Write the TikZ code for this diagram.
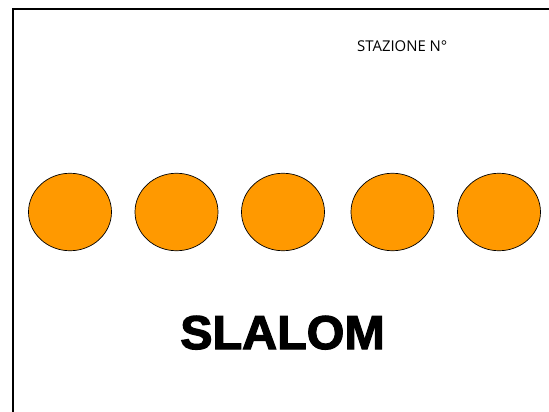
\documentclass[tikz,border=0pt]{standalone}
\usepackage{fontspec}
\newfontfamily\labelfont{Open Sans}
\newfontfamily\titlefont[FakeBold=2.5,FakeStretch=1.02]{Liberation Sans Bold}
\definecolor{slalomorange}{HTML}{FF9900}
\usetikzlibrary{shapes.geometric}
\tikzset{
  cone/.style={shape=ellipse,draw=black,fill=slalomorange,line width=0.7pt,minimum width=83pt,minimum height=77.5pt,inner sep=0pt},
  frameline/.style={line width=2pt,draw=black}
}
\begin{document}
\begin{tikzpicture}[x=1pt,y=-1pt]
\useasboundingbox (0,0) rectangle (549,412);
\fill[white] (0,0) rectangle (549,412);
\coordinate (fbl) at (13,412);
\coordinate (ftl) at (13,9);
\coordinate (ftr) at (549,9);
\draw[frameline] (fbl) -- (ftl) -- (ftr);
\node[cone] (c1) at (70,212) {};
\node[cone] (c2) at (176.5,212) {};
\node[cone] (c3) at (283,212) {};
\node[cone] (c4) at (392.5,212) {};
\node[cone] (c5) at (499,212) {};
\node[anchor=base west,inner sep=0pt,font=\labelfont\fontsize{14.9}{17}\selectfont] (st) at (357,52) {STAZIONE N°};
\node[anchor=base,inner sep=0pt,font=\titlefont\fontsize{47.5}{50}\selectfont] (ti) at (282.5,349) {SLALOM};
\end{tikzpicture}
\end{document}
